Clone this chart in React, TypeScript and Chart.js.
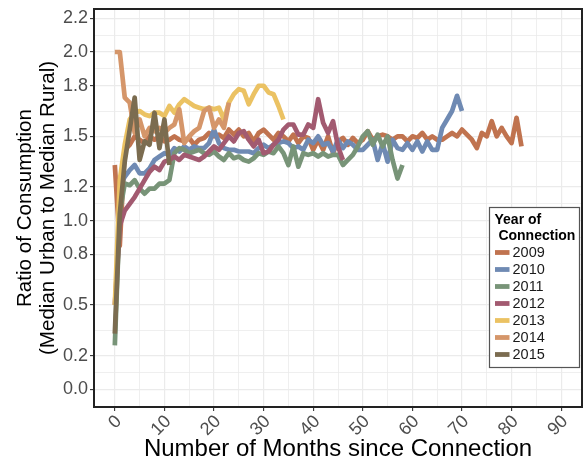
import React, { useEffect, useRef } from 'react';
import { Chart, registerables } from 'chart.js';

Chart.register(...registerables);

const FONT = '"Liberation Sans", Arial, Helvetica, sans-serif';

const years = ['2009', '2010', '2011', '2012', '2013', '2014', '2015'];
const seriesColors = ['#C0734F', '#6F8AB3', '#789478', '#A25A70', '#EBC263', '#D5966A', '#7B6C50'];
const startMonth = [0, 1, 0, 0, 0, 0, 0];

const ratio2009 = [
  1.33, 0.85, 1.42, 1.45, 1.50, 1.48, 1.46, 1.50, 1.48, 1.50,
  1.47, 1.48, 1.50, 1.48, 1.47, 1.49, 1.45, 1.48, 1.49, 1.52,
  1.50, 1.51, 1.49, 1.54, 1.51, 1.54, 1.50, 1.52, 1.47, 1.52,
  1.54, 1.51, 1.48, 1.52, 1.50, 1.47, 1.51, 1.46, 1.50, 1.49,
  1.42, 1.48, 1.42, 1.50, 1.40, 1.47, 1.49, 1.45, 1.49, 1.46,
  1.48, 1.53, 1.48, 1.50, 1.51, 1.50, 1.48, 1.50, 1.50, 1.47,
  1.50, 1.49, 1.52, 1.48, 1.50, 1.48, 1.48, 1.50, 1.52, 1.50,
  1.54, 1.51, 1.48, 1.43, 1.52, 1.50, 1.59, 1.50, 1.55, 1.50,
  1.46, 1.61, 1.44,
];
const ratio2010 = [
  1.20, 1.26, 1.30, 1.33, 1.28, 1.28, 1.31, 1.36, 1.38, 1.40,
  1.39, 1.43, 1.41, 1.44, 1.42, 1.44, 1.43, 1.43, 1.46, 1.54,
  1.46, 1.43, 1.42, 1.42, 1.41, 1.41, 1.41, 1.40, 1.43, 1.45,
  1.43, 1.45, 1.46, 1.47, 1.46, 1.43, 1.44, 1.42, 1.48, 1.46,
  1.50, 1.45, 1.46, 1.41, 1.48, 1.43, 1.47, 1.45, 1.42, 1.42,
  1.45, 1.48, 1.36, 1.46, 1.35, 1.48, 1.43, 1.42, 1.46, 1.42,
  1.47, 1.41, 1.47, 1.42, 1.42, 1.55, 1.60, 1.65, 1.74, 1.65,
];
const ratio2011 = [
  0.26, 1.05, 1.22, 1.21, 1.24, 1.19, 1.16, 1.19, 1.19, 1.22,
  1.22, 1.24, 1.40, 1.43, 1.42, 1.40, 1.41, 1.42, 1.40, 1.39,
  1.41, 1.38, 1.36, 1.40, 1.37, 1.38, 1.36, 1.35, 1.37, 1.40,
  1.39, 1.41, 1.40, 1.44, 1.40, 1.33, 1.44, 1.32, 1.40, 1.39,
  1.40, 1.38, 1.40, 1.38, 1.39, 1.39, 1.33, 1.36, 1.39, 1.44,
  1.50, 1.53, 1.45, 1.51, 1.44, 1.50, 1.36, 1.25, 1.33,
];
const ratio2012 = [
  0.50, 0.97, 1.06, 1.10, 1.14, 1.19, 1.24, 1.29, 1.32, 1.30,
  1.35, 1.36, 1.38, 1.36, 1.39, 1.38, 1.37, 1.36, 1.38, 1.41,
  1.44, 1.42, 1.46, 1.50, 1.47, 1.52, 1.53, 1.48, 1.44, 1.48,
  1.40, 1.41, 1.45, 1.48, 1.54, 1.57, 1.57, 1.51, 1.51, 1.57,
  1.55, 1.72, 1.58, 1.52, 1.59, 1.44, 1.36,
];
const ratio2013 = [
  0.50, 1.24, 1.45, 1.60, 1.64, 1.65, 1.63, 1.62, 1.64, 1.64,
  1.62, 1.68, 1.64, 1.69, 1.72, 1.70, 1.68, 1.67, 1.66, 1.67,
  1.66, 1.67, 1.60, 1.70, 1.75, 1.78, 1.77, 1.69, 1.75, 1.80,
  1.80, 1.76, 1.75, 1.68, 1.60,
];
const ratio2014 = [
  2.00, 2.00, 1.73, 1.70, 1.52, 1.60, 1.50, 1.55, 1.53, 1.55,
  1.52, 1.55, 1.57, 1.66, 1.46, 1.50, 1.53, 1.55, 1.65, 1.67,
  1.55, 1.60, 1.55, 1.70,
];
const ratio2015 = [
  0.33, 1.04, 1.35, 1.54, 1.73, 1.36, 1.47, 1.45, 1.64, 1.43,
  1.60, 1.33,
];
const seriesValues = [ratio2009, ratio2010, ratio2011, ratio2012, ratio2013, ratio2014, ratio2015];

const xTickValues = [0, 10, 20, 30, 40, 50, 60, 70, 80, 90];
const yTickValues = [0.0, 0.2, 0.5, 0.8, 1.0, 1.2, 1.5, 1.8, 2.0, 2.2];
const xRange = [-4.2, 94.2];
const yRange = [-0.105, 2.255];

const legendTitle = ['Year of', ' Connection'];
const xTitle = 'Number of Months since Connection';
const yTitle = ['Ratio of Consumption', '(Median Urban to Median Rural)'];

function withMinor(major: number[]) {
  const out: number[] = [];
  major.forEach((v, i) => {
    out.push(v);
    if (i < major.length - 1) out.push(+((v + major[i + 1]) / 2).toFixed(4));
  });
  return out;
}
const isMajorOf = (major: number[]) => (v: number) => major.some((m) => Math.abs(m - v) < 1e-6);
const isMajorX = isMajorOf(xTickValues);
const isMajorY = isMajorOf(yTickValues);

const panelBorder = {
  id: 'panelBorder',
  afterDraw(chart: any) {
    const { ctx, chartArea } = chart;
    ctx.save();
    ctx.strokeStyle = '#222222';
    ctx.lineWidth = 2;
    ctx.strokeRect(chartArea.left, chartArea.top, chartArea.right - chartArea.left, chartArea.bottom - chartArea.top);
    ctx.restore();

    // legend inside panel
    const x0 = 489.5, y0 = 207.5, w = 90, h = 160;
    ctx.save();
    ctx.fillStyle = '#FFFFFF';
    ctx.fillRect(x0, y0, w, h);
    ctx.strokeStyle = '#555555';
    ctx.lineWidth = 1.2;
    ctx.strokeRect(x0, y0, w, h);
    ctx.fillStyle = '#000000';
    ctx.font = `bold 14px ${FONT}`;
    ctx.textBaseline = 'alphabetic';
    ctx.textAlign = 'left';
    ctx.fillText(legendTitle[0], 494.5, 223.5);
    ctx.fillText(legendTitle[1], 494.5, 239.5);
    ctx.font = `14.5px ${FONT}`;
    ctx.textBaseline = 'middle';
    chart.data.datasets.forEach((ds: any, i: number) => {
      const cy = 252.5 + 17 * i;
      ctx.fillStyle = ds.borderColor;
      ctx.fillRect(495, cy - 2.4, 14.5, 4.8);
      ctx.fillStyle = '#1A1A1A';
      ctx.fillText(ds.label, 512.5, cy + 0.5);
    });
    ctx.restore();
  },
};

export default function App() {
  const ref = useRef<HTMLCanvasElement | null>(null);

  useEffect(() => {
    if (!ref.current) return;
    const datasets = years.map((y, i) => ({
      label: y,
      data: seriesValues[i].map((v, k) => ({ x: startMonth[i] + k, y: v })),
      borderColor: seriesColors[i],
      backgroundColor: seriesColors[i],
      borderWidth: 4.7,
      borderJoinStyle: 'round' as const,
      borderCapStyle: 'butt' as const,
      pointRadius: 0,
      tension: 0,
      fill: false,
      order: years.length - 1 - i,
    }));

    const chart = new Chart(ref.current, {
      type: 'line',
      data: { datasets },
      plugins: [panelBorder],
      options: {
        animation: false,
        responsive: false,
        devicePixelRatio: 1,
        parsing: false as any,
        layout: { padding: { left: 0, right: 1, top: 9, bottom: 0 } },
        plugins: {
          legend: { display: false },
          tooltip: { enabled: false },
        },
        scales: {
          x: {
            type: 'linear',
            min: xRange[0],
            max: xRange[1],
            afterBuildTicks: (scale: any) => {
              scale.ticks = withMinor(xTickValues).map((v) => ({ value: v }));
            },
            afterFit: (scale: any) => {
              scale.height = 57;
              scale.paddingLeft = 0;
              scale.paddingRight = 0;
            },
            border: { display: false },
            grid: {
              color: '#EBEBEB',
              lineWidth: (c: any) => (isMajorX(c.tick?.value) ? 1.2 : 0.8),
              tickColor: (c: any) => (isMajorX(c.tick?.value) ? '#333333' : 'rgba(0,0,0,0)'),
              tickLength: 4,
              tickWidth: 1.1,
            },
            ticks: {
              autoSkip: false,
              minRotation: 45,
              maxRotation: 45,
              padding: 0,
              labelOffset: 4,
              color: '#4D4D4D',
              font: { family: FONT, size: 18 },
              callback: (v: any) => (isMajorX(Number(v)) ? String(v) : ''),
            },
            title: {
              display: true,
              text: xTitle,
              color: '#000000',
              font: { family: FONT, size: 24, lineHeight: 1.2 },
              padding: { top: 0, bottom: 0.5 },
            },
          },
          y: {
            type: 'linear',
            min: yRange[0],
            max: yRange[1],
            afterBuildTicks: (scale: any) => {
              scale.ticks = withMinor(yTickValues).map((v) => ({ value: v }));
            },
            afterFit: (scale: any) => {
              scale.width = 94;
              scale.paddingTop = 0;
              scale.paddingBottom = 0;
            },
            border: { display: false },
            grid: {
              color: '#EBEBEB',
              lineWidth: (c: any) => (isMajorY(c.tick?.value) ? 1.2 : 0.8),
              tickColor: (c: any) => (isMajorY(c.tick?.value) ? '#333333' : 'rgba(0,0,0,0)'),
              tickLength: 4,
              tickWidth: 1.1,
            },
            ticks: {
              autoSkip: false,
              padding: 2,
              color: '#4D4D4D',
              font: { family: FONT, size: 18 },
              callback: (v: any) => (isMajorY(Number(v)) ? Number(v).toFixed(1) : ''),
            },
            title: {
              display: true,
              text: yTitle,
              color: '#000000',
              font: { family: FONT, size: 20.6, lineHeight: 23 / 20.6 },
              padding: { top: 13.5, bottom: 0 },
            },
          },
        },
      },
    });
    return () => chart.destroy();
  }, []);

  return (
    <div style={{ position: 'absolute', left: 0, top: 0, width: 583, height: 464 }}>
      <canvas ref={ref} width={583} height={464} style={{ display: 'block', width: 583, height: 464 }} />
    </div>
  );
}
